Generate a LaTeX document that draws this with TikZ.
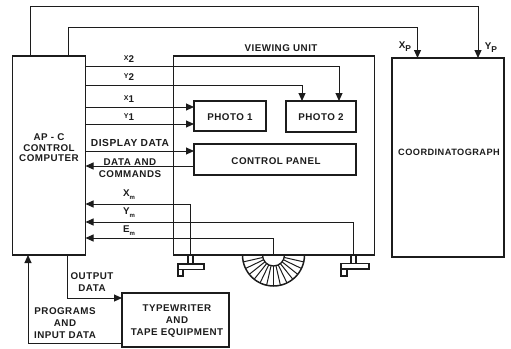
\documentclass[tikz,border=0pt]{standalone}
\usepackage{fontspec}
\setmainfont[LetterSpace=5]{Liberation Sans}
\usetikzlibrary{arrows.meta}
\definecolor{ink}{HTML}{1c1c1c}
\tikzset{
  box/.style={draw=ink,line width=1.7pt,fill=none,inner sep=0pt,outer sep=0pt,anchor=north west},
  wire/.style={draw=ink,line width=1pt},
  head/.style={-{Triangle[length=8pt,width=7pt]}},
  lab/.style={text=ink,inner sep=0pt,align=center,font=\fontsize{9.8}{12}\selectfont\bfseries},
  part/.style={draw=ink,line width=1.5pt},
}
\begin{document}
\begin{tikzpicture}[x=1pt,y=-1pt]
\useasboundingbox (0,0) rectangle (511,348);
% boxes
\node[box,minimum width=73pt,minimum height=199pt] (comp) at (12.5,56) {};
\node[box,minimum width=201pt,minimum height=199pt] (view) at (173.5,56) {};
\node[box,minimum width=112pt,minimum height=199pt] (coord) at (392,58) {};
\node[box,minimum width=72pt,minimum height=30pt] (ph1) at (194,101) {};
\node[box,minimum width=70pt,minimum height=31pt] (ph2) at (286,101) {};
\node[box,minimum width=162pt,minimum height=31pt] (panel) at (194,144) {};
\node[box,minimum width=107pt,minimum height=54pt] (type) at (122,293) {};
% labels in boxes
\node[lab] (tcomp) at (49,147.5) {AP - C\\[-1pt]CONTROL\\[-2pt]COMPUTER};
\node[lab] (tph1) at (230,117) {PHOTO 1};
\node[lab] (tph2) at (321,117) {PHOTO 2};
\node[lab] (tpanel) at (276,161) {CONTROL PANEL};
\node[lab,font=\fontsize{9.2}{12}\selectfont\bfseries] (tcoord) at (449,152) {COORDINATOGRAPH};
\node[lab] (ttype) at (177,321) {TYPEWRITER\\AND\\TAPE EQUIPMENT};
\node[lab] (tview) at (281,48) {VIEWING UNIT};
% wire labels
\node[lab] (lx2) at (129,59) {\raisebox{1.5pt}{\fontsize{7}{8}\selectfont X}2};
\node[lab] (ly2) at (129,77) {\raisebox{1.5pt}{\fontsize{7}{8}\selectfont Y}2};
\node[lab] (lx1) at (129,99) {\raisebox{1.5pt}{\fontsize{7}{8}\selectfont X}1};
\node[lab] (ly1) at (129,117) {\raisebox{1.5pt}{\fontsize{7}{8}\selectfont Y}1};
\node[lab,font=\fontsize{10.2}{12}\selectfont\bfseries] (ldisp) at (130,143) {DISPLAY DATA};
\node[lab] (ldata) at (130,168) {DATA AND\\COMMANDS};
\node[lab] (lxm) at (129,195) {X\raisebox{-3pt}{\fontsize{6}{7}\selectfont m}};
\node[lab] (lym) at (129,213) {Y\raisebox{-3pt}{\fontsize{6}{7}\selectfont m}};
\node[lab] (lem) at (129,231) {E\raisebox{-3pt}{\fontsize{6}{7}\selectfont m}};
\node[lab] (lxp) at (405,47) {X\raisebox{-3pt}{\fontsize{8.5}{9}\selectfont P}};
\node[lab] (lyp) at (491,48) {Y\raisebox{-3pt}{\fontsize{8.5}{9}\selectfont P}};
\node[lab] (lout) at (92,282) {OUTPUT\\DATA};
\node[lab] (lprog) at (65,323) {PROGRAMS\\AND\\INPUT DATA};
% handwheels and foot wheel
\coordinate (lhw) at (190.5,255);
\coordinate (rhw) at (353.5,255);
\coordinate (fw) at (273.5,255);
\draw[part] (lhw)++(-2.5,0) -- ++(0,9) (lhw)++(2.5,0) -- ++(0,9);
\draw[part] (178,264) rectangle (204,269.5);
\draw[part] (178,269.5) rectangle (183,276);
\draw[part] (rhw)++(-2.5,0) -- ++(0,9) (rhw)++(2.5,0) -- ++(0,9);
\draw[part] (341,263.5) rectangle (369,269);
\draw[part] (341,269) rectangle (347,276);
\draw[part] ([xshift=-31pt]fw) arc[start angle=180,end angle=360,radius=31pt];
\draw[line width=1.3pt,draw=ink] ([xshift=-11pt]fw) arc[start angle=180,end angle=360,radius=11pt];
\foreach \i in {1,...,13}
  \draw[wire] (fw) ++({180+\i*180/14}:11pt) -- ++({180+\i*180/14}:20pt);
% connectors
\coordinate (tx2) at (339,66); \coordinate (ty2) at (302,85);
\draw[wire,head] (comp.east |- tx2) -- (tx2) -- (tx2 |- ph2.north);
\draw[wire,head] (comp.east |- ty2) -- (ty2) -- (ty2 |- ph2.north);
\draw[wire,head] (comp.east |- 0,107) -- (ph1.west |- 0,107);
\draw[wire,head] (comp.east |- 0,124) -- (ph1.west |- 0,124);
\draw[wire,head] (comp.east |- 0,151) -- (panel.west |- 0,151);
\draw[wire,head] (panel.west |- 0,166) -- (comp.east |- 0,166);
\coordinate (txm) at (lhw |- 0,204);
\coordinate (tym) at (rhw |- 0,222);
\coordinate (tem) at (fw |- 0,238);
\draw[wire,head] (lhw) -- (txm) -- (comp.east |- txm);
\draw[wire,head] (rhw) -- (tym) -- (comp.east |- tym);
\draw[wire,head] (fw) -- (tem) -- (comp.east |- tem);
\coordinate (txp) at (417.5,27); \coordinate (typ) at (478,6);
\draw[wire,head] (comp.north -| 68,0) -- (68,27) -- (txp) -- (txp |- coord.north);
\draw[wire,head] (comp.north -| 30,0) -- (30,6) -- (typ) -- (typ |- coord.north);
\coordinate (tout) at (67,298); \coordinate (tprog) at (28,343);
\draw[wire,head] (comp.south -| tout) -- (tout) -- (type.west |- tout);
\draw[wire,head] (type.west |- tprog) -- (tprog) -- (comp.south -| tprog);
\end{tikzpicture}
\end{document}
